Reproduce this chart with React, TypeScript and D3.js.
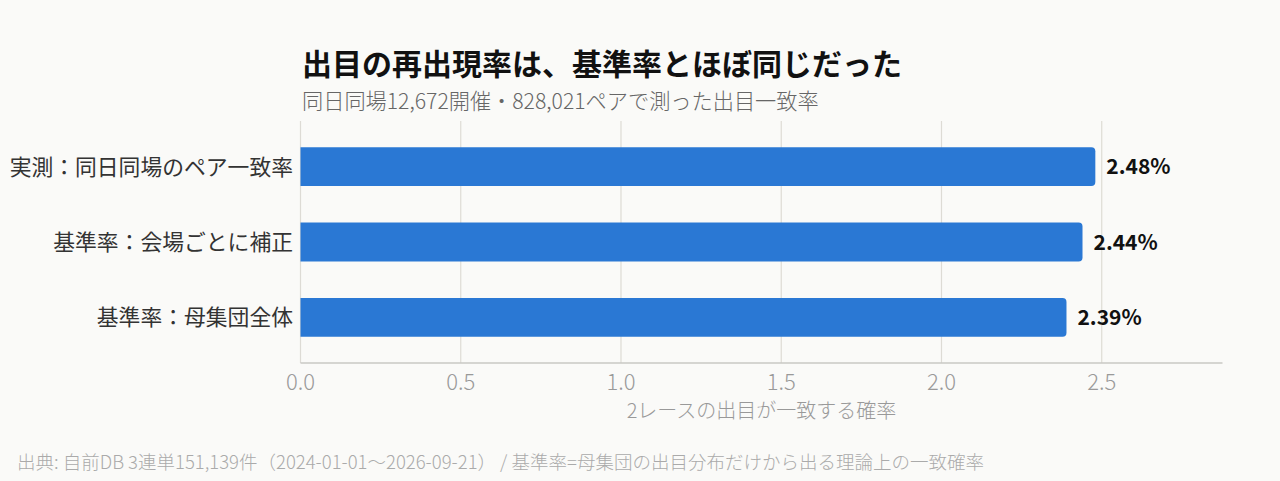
import React, { useEffect } from 'react';
import * as d3 from 'd3';

// chart data
const categories = ['実測：同日同場のペア一致率', '基準率：会場ごとに補正', '基準率：母集団全体'];
const values = [2.48, 2.44, 2.39];
const valueLabels = ['2.48%', '2.44%', '2.39%'];
const xTicks = [0, 0.5, 1.0, 1.5, 2.0, 2.5];

const title = '出目の再出現率は、基準率とほぼ同じだった';
const subtitle = '同日同場12,672開催・828,021ペアで測った出目一致率';
const xTitle = '2レースの出目が一致する確率';
const footer = '出典: 自前DB 3連単151,139件（2024-01-01〜2026-09-21） / 基準率=母集団の出目分布だけから出る理論上の一致確率';

const W = 1280;
const H = 481;
const plot = { left: 300.5, right: 1222.5, top: 121, bottom: 363 };
const font = '"Noto Sans CJK JP", "Noto Sans", sans-serif';

// bar with rounded right end only
function barPath(x0: number, x1: number, y0: number, h: number, r: number): string {
  return `M${x0},${y0} H${x1 - r} Q${x1},${y0} ${x1},${y0 + r} V${y0 + h - r} Q${x1},${y0 + h} ${x1 - r},${y0 + h} H${x0} Z`;
}

export default function App(): React.ReactElement {
  useEffect(() => {
    document.body.style.margin = '0';
  }, []);

  const x = d3.scaleLinear()
    .domain([0, d3.max(values)! * 1.16])
    .range([plot.left, plot.right]);

  const y = d3.scaleBand<string>()
    .domain(categories)
    .range([plot.top, plot.bottom])
    .paddingInner(0.485)
    .paddingOuter(0.35);

  const bw = y.bandwidth();

  return (
    <svg width={W} height={H} style={{ display: 'block', background: '#fafaf8' }} fontFamily={font}>
      <rect width={W} height={H} fill="#fafaf8" />

      <text x={302} y={75} fontSize={30} fontWeight={700} fill="#111">{title}</text>
      <text x={302} y={109} fontSize={21.2} fontWeight={300} fill="#666">{subtitle}</text>

      {/* grid */}
      {xTicks.map((t) => (
        <line key={`g${t}`} x1={x(t)} x2={x(t)} y1={plot.top} y2={plot.bottom}
          stroke="#dddbd5" strokeWidth={1.2} />
      ))}

      {/* bars */}
      {categories.map((c, i) => (
        <g key={c}>
          <path d={barPath(x(0), x(values[i]), y(c)!, bw, 4)} fill="#2a78d4" />
          <text x={x(values[i]) + 11} y={y(c)! + bw / 2} dy="0.36em" fontSize={21}
            fontWeight={700} fill="#111">{valueLabels[i]}</text>
          <text x={293} y={y(c)! + bw / 2} dy="0.36em" textAnchor="end" fontSize={21.8}
            fontWeight={400} fill="#333">{c}</text>
        </g>
      ))}

      {/* x axis */}
      <line x1={plot.left} x2={plot.right} y1={plot.bottom} y2={plot.bottom} stroke="#c9c8c4" strokeWidth={1.5} />
      {xTicks.map((t) => (
        <text key={`t${t}`} x={x(t)} y={390} textAnchor="middle" fontSize={22} fontWeight={300}
          fill="#999">{d3.format('.1f')(t)}</text>
      ))}
      <text x={(plot.left + plot.right) / 2} y={418} textAnchor="middle" fontSize={20} fontWeight={300}
        fill="#999">{xTitle}</text>

      <text x={17} y={469} fontSize={18.5} fontWeight={300} fill="#aaa">{footer}</text>
    </svg>
  );
}
